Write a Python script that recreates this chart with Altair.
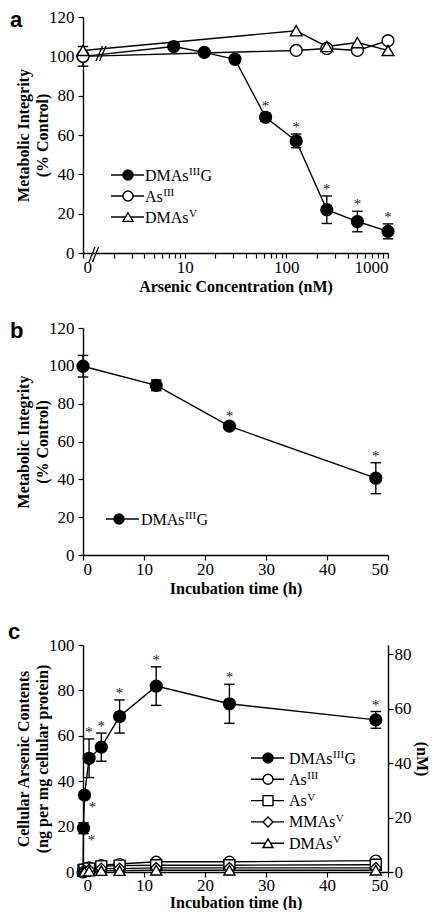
import math
import altair as alt
import pandas as pd

SERIF = "Liberation Serif"
SANS = "Liberation Sans"
LW = 1.4

# ---------------- data ----------------
# panel a : arsenic concentration (nM) vs metabolic integrity (% control)
conc_a = [0, 7.8, 15.6, 31.25, 62.5, 125, 250, 500, 1000]
dmag_a = [100, 105, 102, 98.5, 69, 57, 22, 16, 11]
dmag_a_err = [5, 1, 1, 1, 2, 3.5, 7, 5.2, 3.8]
dmag_a_sig = [0, 0, 0, 0, 1, 1, 1, 1, 1]
conc_a_other = [0, 125, 250, 500, 1000]
as3_a = [100, 103, 104, 103, 108]
dmav_a = [103, 113, 105, 107, 103]

# panel b : incubation time (h) vs metabolic integrity
time_b = [0, 12, 24, 48]
dmag_b = [99.8, 89.7, 68.1, 40.6]
dmag_b_err = [5.7, 2.8, 1.5, 8.2]
dmag_b_sig = [0, 0, 1, 1]

# panel c : incubation time (h) vs cellular arsenic contents
time_c = [0, 0.083, 0.25, 1, 3, 6, 12, 24, 48]
dmag_c = [0, 19.3, 33.9, 50.1, 55, 68.5, 81.9, 74.1, 67.0]
dmag_c_err = [0, 2.4, 0, 8.5, 6.2, 7.3, 8.5, 8.6, 3.7]
dmag_c_sig = [0, 2, 2, 1, 1, 1, 1, 1, 1]  # 1: above bar, 2: below right
time_c_other = [0.083, 0.25, 1, 3, 6, 12, 24, 48]
as3_c = [1, 1.5, 2, 3, 3.5, 4.5, 4.5, 5]
as5_c = [0.8, 1, 1.5, 2.5, 2.8, 3, 3, 3.2]
mmas_c = [0.5, 0.5, 1, 1.5, 1.5, 1.8, 1.8, 1.8]
dmav_c = [0.2, 0.2, 0.4, 0.6, 0.6, 0.8, 0.8, 0.8]

x_ticks_a_labels = {0: "0", 1: "10", 2: "100", 3: "1000"}

# ---------------- helpers ----------------
DUMMY = pd.DataFrame({"d": [0]})
GLYPH_W = {"D": .722, "M": .889, "A": .722, "s": .389, "G": .722, "I": .333, "V": .722}

AX = dict(grid=False, domainColor="black", domainWidth=1.4, tickColor="black", tickWidth=1.2,
          tickSize=5, labelFont=SERIF, labelFontSize=17, labelColor="black",
          titleFont=SERIF, titleFontSize=16, titleFontWeight="bold", titleColor="black",
          titleLineHeight=19)


def x_axis(title, values, lp=1, tp=3, **kw):
    return alt.Axis(title=title, values=values, labelPadding=lp, titlePadding=tp, **AX, **kw)


def y_axis(title, values, **kw):
    d = dict(labelPadding=4, titlePadding=-2)
    d.update(kw)
    return alt.Axis(title=title, values=values, **AX, **d)


def tw(s, size):
    return sum(GLYPH_W.get(c, .5) for c in s) * size


def err_df(x, y, e, sig, xname):
    df = pd.DataFrame({xname: x, "y": y, "err": e, "sig": sig})
    df["lo"] = df["y"] - df["err"]
    df["hi"] = df["y"] + df["err"]
    return df


def series_layers(df, X, Y, shape, fill, size=140, xcalc=None):
    def base():
        c = alt.Chart(df)
        if xcalc:
            c = c.transform_calculate(xpos=xcalc)
        return c
    line = base().mark_line(color="black", strokeWidth=LW).encode(x=X, y=Y("y"))
    pts = base().mark_point(shape=shape, filled=True, fill=fill, stroke="black",
                            strokeWidth=LW, size=size, opacity=1).encode(x=X, y=Y("y"))
    return line, pts


def errbar_layers(df, X, Y, xcalc=None):
    def base():
        c = alt.Chart(df).transform_filter("datum.err > 0")
        if xcalc:
            c = c.transform_calculate(xpos=xcalc)
        return c
    rule = base().mark_rule(color="black", strokeWidth=LW).encode(
        x=X, y=Y("lo"), y2=alt.Y2("hi"))
    cap_lo = base().mark_point(shape="stroke", size=110, stroke="black",
                               strokeWidth=LW, opacity=1).encode(x=X, y=Y("lo"))
    cap_hi = base().mark_point(shape="stroke", size=110, stroke="black",
                               strokeWidth=LW, opacity=1).encode(x=X, y=Y("hi"))
    return [rule, cap_lo, cap_hi]


def star_layers(df, X, Y, xcalc=None):
    def base(cond):
        c = alt.Chart(df).transform_filter(cond)
        if xcalc:
            c = c.transform_calculate(xpos=xcalc)
        return c
    above = base("datum.sig == 1").mark_text(
        text="*", font=SERIF, fontSize=15, color="#222", baseline="middle", dy=-7
    ).encode(x=X, y=Y("hi"))
    below = base("datum.sig == 2").mark_text(
        text="*", font=SERIF, fontSize=15, color="#222", baseline="middle", dx=8, dy=12
    ).encode(x=X, y=Y("y"))
    return [above, below]


def legend_layers(rows, x1, x2, xm, xt, y0, dy, fs=16, sfs=11, msize=100):
    out = []
    for i, (main, sup, tail, shape, fill) in enumerate(rows):
        y = y0 + i * dy
        b = alt.Chart(DUMMY)
        out.append(b.mark_rule(color="black", strokeWidth=LW).encode(
            x=alt.value(x1), x2=alt.value(x2), y=alt.value(y)))
        out.append(b.mark_point(shape=shape, filled=True, fill=fill, stroke="black",
                                strokeWidth=LW, size=msize, opacity=1).encode(
            x=alt.value(xm), y=alt.value(y)))
        base_y = y + 5.5
        out.append(b.mark_text(text=main, font=SERIF, fontSize=fs, align="left",
                               baseline="alphabetic", color="black").encode(
            x=alt.value(xt), y=alt.value(base_y)))
        xs = xt + tw(main, fs) + 0.5
        out.append(b.mark_text(text=sup, font=SERIF, fontSize=sfs, align="left",
                               baseline="alphabetic", color="black").encode(
            x=alt.value(xs), y=alt.value(base_y - 5.5)))
        if tail:
            xtail = xs + tw(sup, sfs) + 0.5
            out.append(b.mark_text(text=tail, font=SERIF, fontSize=fs, align="left",
                                   baseline="alphabetic", color="black").encode(
                x=alt.value(xtail), y=alt.value(base_y)))
    return out


def panel_label(letter, x, y):
    return alt.Chart(DUMMY).mark_text(text=letter, font=SANS, fontSize=22, fontWeight="bold",
                                      align="left", baseline="alphabetic",
                                      color="black").encode(x=alt.value(x), y=alt.value(y))


def slash(x1, y1, x2, y2):
    return alt.Chart(DUMMY).mark_rule(color="black", strokeWidth=1.3).encode(
        x=alt.value(x1), y=alt.value(y1), x2=alt.value(x2), y2=alt.value(y2))


W = 305

# ---------------- panel a ----------------
XCALC = "datum.conc == 0 ? 0 : log(datum.conc) / LN10"
tick_vals_a = [0.0]
for d in range(3):
    for k in range(2, 11):
        tick_vals_a.append(round(math.log10(k * 10 ** d), 6))
label_expr_a = " : ".join(
    f"datum.value == {k} ? '{v}'" for k, v in x_ticks_a_labels.items()) + " : ''"

Xa = alt.X("xpos:Q", scale=alt.Scale(domain=[0, 3], nice=False, zero=False),
           axis=x_axis("Arsenic Concentration (nM)", tick_vals_a, labelExpr=label_expr_a))
y_axis_a = y_axis(["Metabolic Integrity", "(% Control)"], [0, 20, 40, 60, 80, 100, 120])


def Ya(f):
    return alt.Y(f"{f}:Q", scale=alt.Scale(domain=[0, 120], nice=False), axis=y_axis_a)


dfa = err_df(conc_a, dmag_a, dmag_a_err, dmag_a_sig, "conc")
dfa_as3 = pd.DataFrame({"conc": conc_a_other, "y": as3_a})
dfa_dmav = pd.DataFrame({"conc": conc_a_other, "y": dmav_a})

la1, pa1 = series_layers(dfa, Xa, Ya, "circle", "black", xcalc=XCALC)
la2, pa2 = series_layers(dfa_as3, Xa, Ya, "circle", "white", xcalc=XCALC)
la3, pa3 = series_layers(dfa_dmav, Xa, Ya, "triangle-up", "white", xcalc=XCALC)

legend_a = legend_layers(
    [("DMAs", "III", "G", "circle", "black"),
     ("As", "III", "", "circle", "white"),
     ("DMAs", "V", "", "triangle-up", "white")],
    x1=28, x2=61, xm=45, xt=62, y0=158, dy=21)

breaks_a = [slash(6, 245, 12, 230), slash(9.5, 245, 15.5, 230),
            slash(13, 44, 19.5, 29), slash(16.5, 44, 23, 29)]

panel_a = alt.layer(
    la1, la2, la3,
    *errbar_layers(dfa, Xa, Ya, xcalc=XCALC),
    pa1, pa2, pa3,
    *star_layers(dfa, Xa, Ya, xcalc=XCALC),
    *breaks_a, *legend_a,
    panel_label("a", -73, 10),
).properties(width=W, height=236)

# ---------------- panel b ----------------
Xb = alt.X("t:Q", scale=alt.Scale(domain=[0, 50], nice=False),
           axis=x_axis("Incubation time (h)", [0, 10, 20, 30, 40, 50]))


def Yb(f):
    return alt.Y(f"{f}:Q", scale=alt.Scale(domain=[0, 120], nice=False), axis=y_axis_a)


dfb = err_df(time_b, dmag_b, dmag_b_err, dmag_b_sig, "t")
lb1, pb1 = series_layers(dfb, Xb, Yb, "circle", "black")
legend_b = legend_layers([("DMAs", "III", "G", "circle", "black")],
                         x1=23, x2=56, xm=36, xt=58, y0=191, dy=21)
panel_b = alt.layer(
    lb1, *errbar_layers(dfb, Xb, Yb), pb1, *star_layers(dfb, Xb, Yb),
    *legend_b, panel_label("b", -73, 10),
).properties(width=W, height=227)

# ---------------- panel c ----------------
Xc = alt.X("t:Q", scale=alt.Scale(domain=[0, 50], nice=False),
           axis=x_axis("Incubation time (h)", [0, 10, 20, 30, 40, 50], lp=0, tp=1))
y_axis_c = y_axis(["Cellular Arsenic Contents", "(ng per mg cellular protein)"],
                  [0, 20, 40, 60, 80, 100])


def Yc(f):
    return alt.Y(f"{f}:Q", scale=alt.Scale(domain=[0, 100], nice=False), axis=y_axis_c)


dfc = err_df(time_c, dmag_c, dmag_c_err, dmag_c_sig, "t")
others_c = [
    (as3_c, "circle"), (as5_c, "square"), (mmas_c, "diamond"), (dmav_c, "triangle-up")]
lc_lines, lc_pts = [], []
for vals, shp in others_c:
    l, p = series_layers(pd.DataFrame({"t": time_c_other, "y": vals}), Xc, Yc, shp, "white",
                         size=120)
    lc_lines.append(l)
    lc_pts.append(p)
lc1, pc1 = series_layers(dfc, Xc, Yc, "circle", "black")

legend_c = legend_layers(
    [("DMAs", "III", "G", "circle", "black"),
     ("As", "III", "", "circle", "white"),
     ("As", "V", "", "square", "white"),
     ("MMAs", "V", "", "diamond", "white"),
     ("DMAs", "V", "", "triangle-up", "white")],
    x1=168, x2=201, xm=185, xt=206, y0=113, dy=21.3)

left_c = alt.layer(
    lc1, *errbar_layers(dfc, Xc, Yc), pc1, *lc_lines, *lc_pts,
    *star_layers(dfc, Xc, Yc), *legend_c, panel_label("c", -75, -6),
)
right_c = alt.Chart(pd.DataFrame({"nM": [0, 80]})).mark_point(opacity=0).encode(
    y=alt.Y("nM:Q", scale=alt.Scale(domain=[0, 83.4], nice=False),
            axis=y_axis("(nM)", [0, 20, 40, 60, 80], orient="right",
                        labelPadding=1, titlePadding=2)))
panel_c = alt.layer(left_c, right_c).resolve_scale(y="independent").properties(
    width=W, height=227)

chart = alt.vconcat(panel_a, panel_b, panel_c, spacing=25).properties(
    padding={"left": 0, "top": 0, "right": 0, "bottom": 0}
).configure_view(stroke=None)

chart.save("out.html", embed_options={"renderer": "svg", "actions": False})
